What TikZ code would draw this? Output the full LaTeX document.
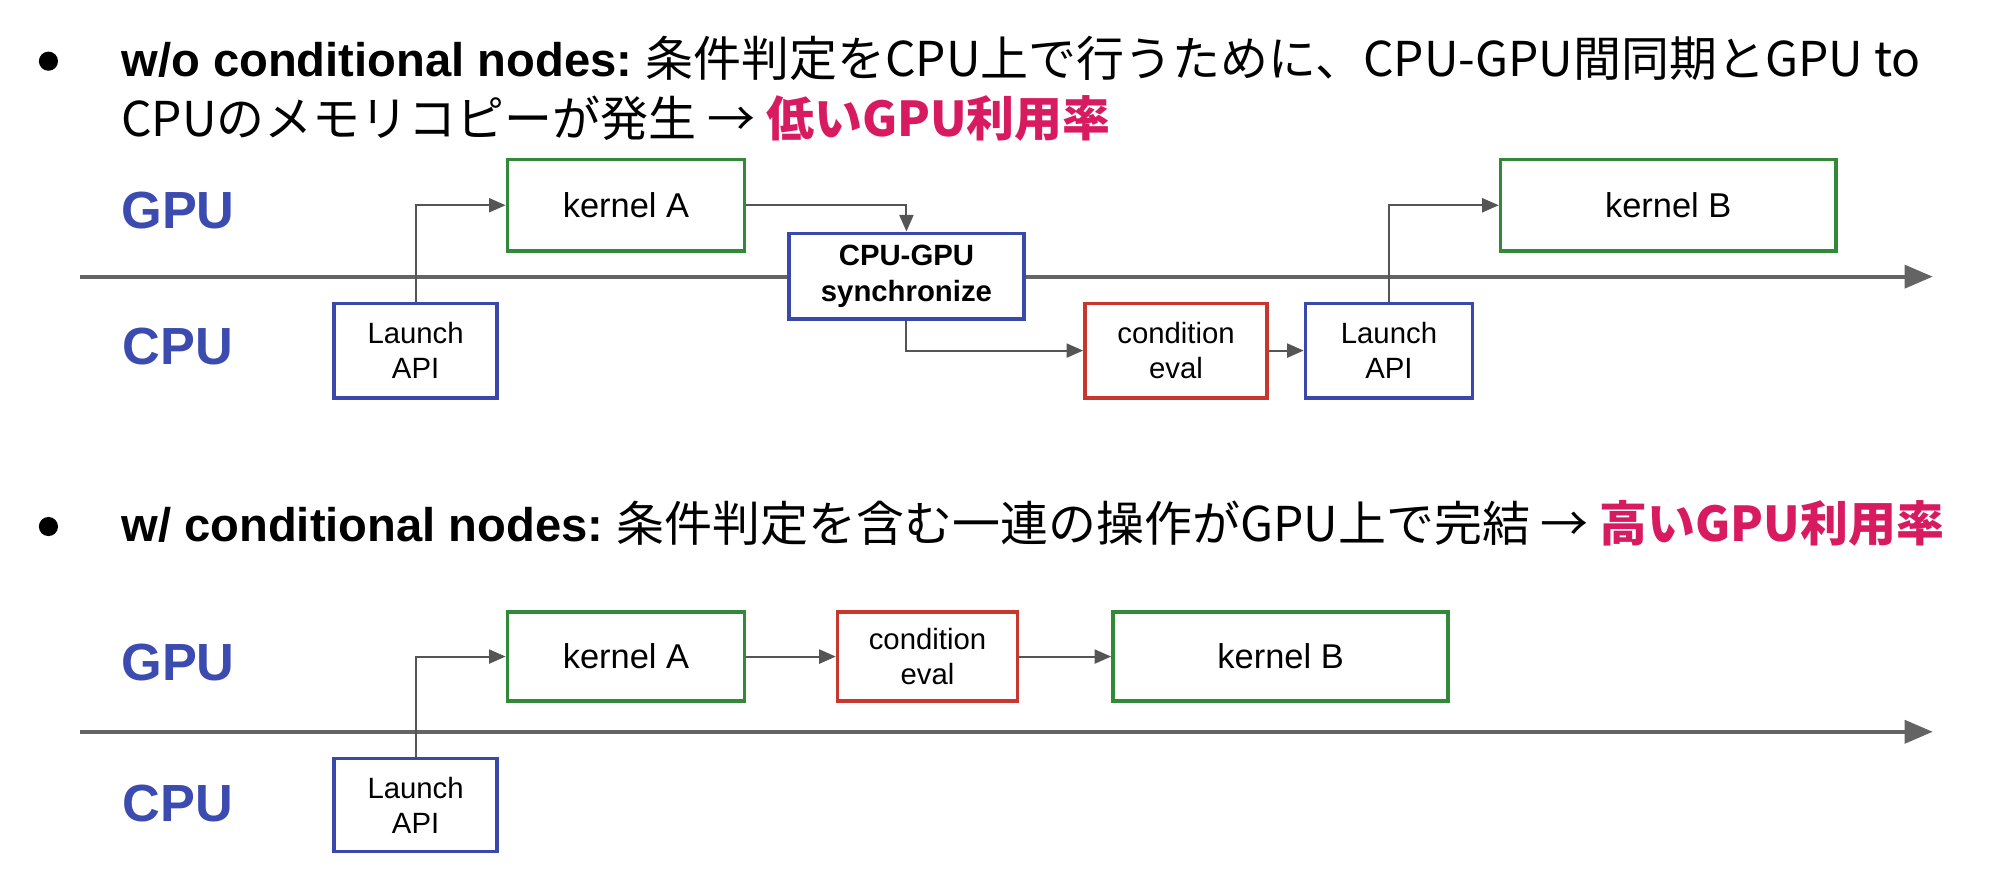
\documentclass[tikz,border=0pt]{standalone}
\usepackage{fontspec}
\setmainfont{Liberation Sans}
\newfontfamily\jp{Noto Sans CJK JP}[Scale=1.017]
\usetikzlibrary{arrows.meta}
\definecolor{lblblue}{RGB}{60,75,175}
\definecolor{boxblue}{RGB}{57,73,171}
\definecolor{boxgreen}{RGB}{50,138,56}
\definecolor{boxred}{RGB}{200,55,45}
\definecolor{hl}{RGB}{216,27,96}
\definecolor{conngray}{RGB}{85,85,85}
\definecolor{linegray}{RGB}{100,100,100}
\tikzset{
  box/.style={draw, fill=white, line width=2.8pt, inner sep=0pt, align=center},
  gbox/.style={box, draw=boxgreen},
  bbox/.style={box, draw=boxblue},
  rbox/.style={box, draw=boxred},
  kfont/.style={font=\fontsize{27}{32}\selectfont},
  sfont/.style={font=\fontsize{23}{27.5}\selectfont},
  lane/.style={font=\fontsize{41}{48}\selectfont\bfseries, text=lblblue, anchor=west, inner sep=0pt},
  hdr/.style={anchor=base west, inner sep=0pt, font=\fontsize{37}{44}\selectfont},
  timeline/.style={draw=linegray, line width=3pt, -{Triangle[length=22pt,width=18pt]}},
  conn/.style={draw=conngray, line width=1.6pt, -{Triangle[length=13pt,width=11pt]}},
}
\begin{document}
\begin{tikzpicture}[x=1pt,y=-1pt]
\useasboundingbox (0,0) rectangle (1568,688);
% ---------- header 1
\fill (38,48) circle (7.5);
\node[hdr] (h1a) at (95,60) {{\bfseries w/o conditional nodes:}\ {\jp 条件判定をCPU上で行うために、CPU-GPU間同期とGPU to}};
\node[hdr] (h1b) at (95,107) {\jp CPUのメモリコピーが発生 → {\color{hl}\bfseries 低いGPU利用率}};
% ---------- lanes 1
\node[lane] (g1) at (95,165) {GPU};
\node[lane] (c1) at (96,272) {CPU};
\coordinate (t1s) at (63,217);
\coordinate (t1e) at (1516,217);
\draw[timeline] (t1s) -- (t1e);
% boxes 1
\node[bbox, sfont, minimum width=128pt, minimum height=74pt] (L1) at (326,275) {Launch\\API};
\node[gbox, kfont, minimum width=186pt, minimum height=72pt] (KA1) at (491,161) {kernel A};
\node[bbox, sfont, minimum width=184pt, minimum height=67pt, font=\fontsize{23}{28.5}\selectfont\bfseries] (SY) at (711,216.5) {CPU-GPU\\synchronize};
\node[rbox, sfont, minimum width=143pt, minimum height=74pt] (CE1) at (922.5,275) {condition\\eval};
\node[bbox, sfont, minimum width=131pt, minimum height=74pt] (L2) at (1089.5,275) {Launch\\API};
\node[gbox, kfont, minimum width=263pt, minimum height=72pt] (KB1) at (1308.5,161) {kernel B};
% connectors 1
\draw[conn] (L1.north) |- (KA1.west);
\draw[conn] (KA1.east) -| (SY.north);
\draw[conn] (SY.south) |- (CE1.west);
\draw[conn] (CE1.east) -- (L2.west);
\draw[conn] (L2.north) |- (KB1.west);
% ---------- header 2
\fill (38,413) circle (7.5);
\node[hdr] (h2) at (95,425) {{\bfseries w/ conditional nodes:}\ {\jp 条件判定を含む一連の操作がGPU上で完結 → {\color{hl}\bfseries 高いGPU利用率}}};
% ---------- lanes 2
\node[lane] (g2) at (95,520) {GPU};
\node[lane] (c2) at (96,630) {CPU};
\coordinate (t2s) at (63,574);
\coordinate (t2e) at (1516,574);
\draw[timeline] (t2s) -- (t2e);
% boxes 2
\node[bbox, sfont, minimum width=128pt, minimum height=73pt] (L3) at (326,631.5) {Launch\\API};
\node[gbox, kfont, minimum width=186pt, minimum height=70pt] (KA2) at (491,515) {kernel A};
\node[rbox, sfont, minimum width=141pt, minimum height=70pt] (CE2) at (727.5,515) {condition\\eval};
\node[gbox, kfont, minimum width=263pt, minimum height=70pt] (KB2) at (1004.5,515) {kernel B};
% connectors 2
\draw[conn] (L3.north) |- (KA2.west);
\draw[conn] (KA2.east) -- (CE2.west);
\draw[conn] (CE2.east) -- (KB2.west);
\end{tikzpicture}
\end{document}
